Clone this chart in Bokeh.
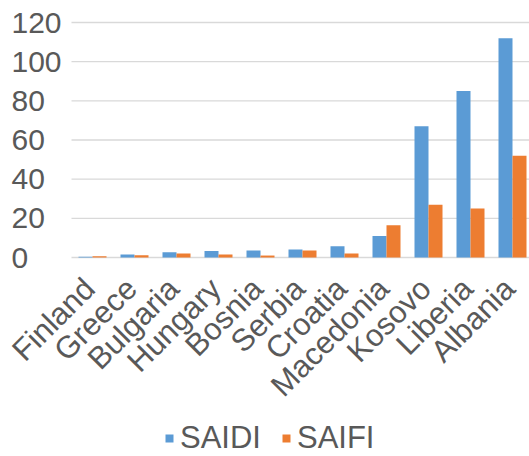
import numpy as np
from bokeh.plotting import figure
from bokeh.models import Range1d, Legend, LegendItem
from bokeh.core.properties import value
from bokeh.embed import file_html
from bokeh.resources import INLINE

# Reliability indices by country
countries = ["Finland", "Greece", "Bulgaria", "Hungary", "Bosnia", "Serbia",
             "Croatia", "Macedonia", "Kosovo", "Liberia", "Albania"]
saidi = [0.4, 1.5, 2.7, 3.3, 3.6, 4.1, 5.8, 11, 67, 85, 112]
saifi = [0.6, 1.2, 2.0, 1.5, 1.0, 3.6, 2.1, 16.5, 27, 25, 52]
y_ticks = [0, 20, 40, 60, 80, 100, 120]

BLUE = "#5B9BD5"
ORANGE = "#ED7D31"
GREY_TEXT = "#595959"
GRID = "#D9D9D9"
FONT = "Liberation Sans"

n = len(countries)
idx = np.arange(n)
bar_w = 1 / 3

# The frame fills the whole canvas; the value labels, rotated category
# labels and legend are all drawn inside it around the bar area.
W, H = 529, 456
plot_left = 71                    # screen column where the bar area starts
cat_px = 42                       # width of one category
zero_px, top_px = 257, 22         # screen rows of the values 0 and 120
px_per_unit = (zero_px - top_px) / 120

x_start = -0.5 - plot_left / cat_px
x_end = x_start + W / cat_px
y_end = zero_px / px_per_unit
y_start = y_end - H / px_per_unit

p = figure(width=W, height=H, output_backend="svg", toolbar_location=None,
           x_range=Range1d(x_start, x_end), y_range=Range1d(y_start, y_end),
           min_border=0)
p.outline_line_color = None
p.background_fill_color = "white"
p.border_fill_color = "white"
p.xaxis.visible = False
p.yaxis.visible = False
p.grid.visible = False

# horizontal gridlines (the one at 0 doubles as the category axis line)
p.segment(x0=-0.5, x1=x_end, y0=y_ticks, y1=y_ticks,
          line_color=GRID, line_width=1.3)

r1 = p.vbar(x=idx - bar_w / 2, top=saidi, width=bar_w, fill_color=BLUE, line_color=None)
r2 = p.vbar(x=idx + bar_w / 2, top=saifi, width=bar_w, fill_color=ORANGE, line_color=None)

# value labels, left-aligned near the left edge
p.text(x=x_start, y=y_ticks, text=[str(t) for t in y_ticks], x_offset=11,
       text_align="left", text_baseline="middle",
       text_font=value(FONT), text_font_size=value("30px"), text_color=GREY_TEXT)

# category labels, rotated 45 degrees under each group
p.text(x=idx, y=np.zeros(n), text=countries, angle=np.pi / 4,
       text_align="right", text_baseline="middle", y_offset=26, x_offset=-3,
       text_font=value(FONT), text_font_size=value("31px"), text_color=GREY_TEXT)

legend = Legend(items=[LegendItem(label="SAIDI", renderers=[r1]),
                       LegendItem(label="SAIFI", renderers=[r2])],
                orientation="horizontal", location=(164, 0),
                glyph_width=10, glyph_height=10, label_standoff=6, spacing=20,
                padding=0, margin=0, border_line_color=None,
                background_fill_alpha=0,
                label_text_font=FONT, label_text_font_size="31px",
                label_text_color=GREY_TEXT)
p.add_layout(legend, "center")

open("out.html", "w").write(file_html(p, INLINE))
